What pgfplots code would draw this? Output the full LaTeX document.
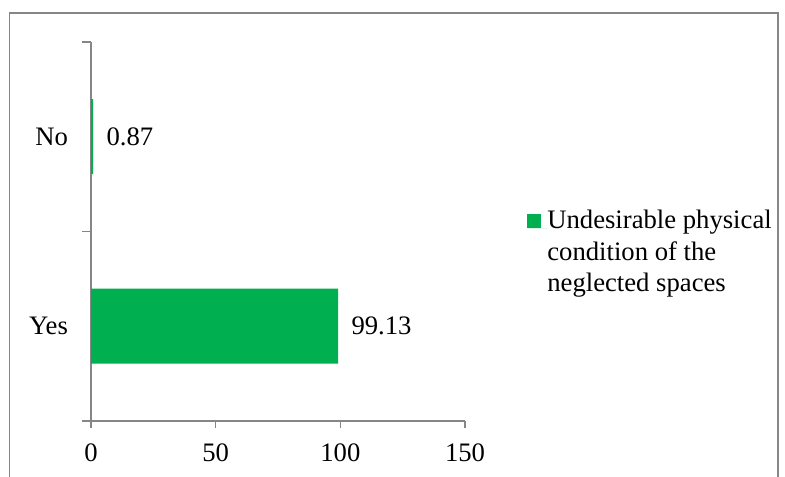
\documentclass[border=0pt]{standalone}
\usepackage{fontspec}
\setmainfont{Liberation Serif}
\usepackage{pgfplots}
\pgfplotsset{compat=1.18}
\definecolor{barGreen}{RGB}{0,176,80}
\definecolor{axGray}{RGB}{134,134,134}
\newcommand{\cf}{\fontsize{20}{23.7}\selectfont}
\begin{document}
\begin{tikzpicture}
\useasboundingbox (0,0) rectangle (588.75pt,357.75pt);
\draw[axGray, line width=1.4pt] (7.1pt,-10pt) -- (7.1pt,348pt) -- (583.5pt,348pt) -- (583.5pt,-10pt);
\begin{axis}[
  at={(68.25pt,42pt)}, anchor=south west,
  scale only axis, width=280.5pt, height=284.25pt,
  xbar, bar width=56.25pt,
  xmin=0, xmax=150, ymin=-0.5, ymax=1.5,
  axis x line*=bottom, axis y line*=left,
  axis line style={draw=axGray, line width=1pt, -},
  xtick={0,50,100,150},
  ytick={0,1}, yticklabels={Yes,No},
  minor ytick={-0.5,0.5,1.5},
  major y tick style={draw=none},
  minor y tick style={draw=axGray, line width=1pt},
  major x tick style={draw=axGray, line width=1pt},
  tick align=outside,
  major tick length=5.25pt, minor tick length=6.75pt,
  tick label style={font=\cf},
  /pgf/number format/assume math mode=true,
  xticklabel style={yshift=-8.5pt},
  yticklabel style={xshift=-8.5pt},
  point meta=x,
  nodes near coords={\pgfmathprintnumber[fixed,fixed zerofill,precision=2,assume math mode=true]{\pgfplotspointmeta}},
  nodes near coords style={font=\cf, anchor=west, xshift=6.5pt, text=black},
  legend style={draw=none, fill=none, inner sep=0pt, font=\cf,
    at={(axis description cs:1.166,0.5575)}, anchor=north west,
    cells={anchor=base west}, nodes={inner sep=0pt}},
  legend image code/.code={\fill[barGreen] (0pt,0pt) rectangle (10.5pt,10.5pt); \path (0pt,0pt) -- (15pt,0pt);},
]
\addplot[fill=barGreen, draw=none] coordinates {(99.13,0) (0.87,1)};
\addlegendentry{\parbox[t]{6cm}{Undesirable physical\\condition of the\\neglected spaces}}
\end{axis}
\end{tikzpicture}
\end{document}
